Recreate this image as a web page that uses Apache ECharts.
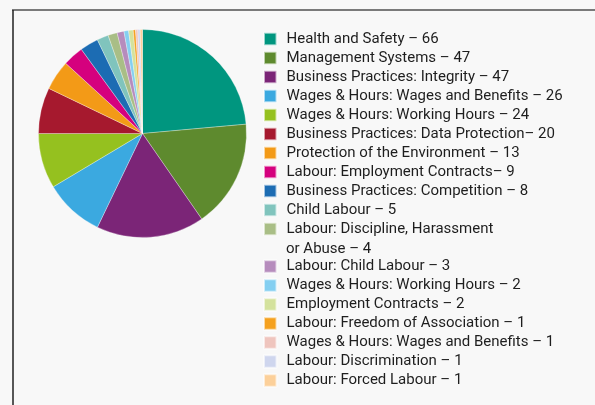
<!DOCTYPE html>
<html><head><meta charset="utf-8">
<script src="https://cdn.jsdelivr.net/npm/echarts@6/dist/echarts.min.js"></script>
<style>html,body{margin:0;padding:0;background:#f8f8f8}#c{width:595px;height:405px}</style>
</head><body><div id="c"></div>
<script>
const categories = [
  'Health and Safety',
  'Management Systems',
  'Business Practices: Integrity',
  'Wages & Hours: Wages and Benefits',
  'Wages & Hours: Working Hours',
  'Business Practices: Data Protection',
  'Protection of the Environment',
  'Labour: Employment Contracts',
  'Business Practices: Competition',
  'Child Labour',
  'Labour: Discipline, Harassment or Abuse',
  'Labour: Child Labour',
  'Wages & Hours: Working Hours',
  'Employment Contracts',
  'Labour: Freedom of Association',
  'Wages & Hours: Wages and Benefits',
  'Labour: Discrimination',
  'Labour: Forced Labour'
];
const values = [66, 47, 47, 26, 24, 20, 13, 9, 8, 5, 4, 3, 2, 2, 1, 1, 1, 1];
const colors = ['#00967f','#5e8a2e','#7b2577','#3ba9e0','#95c11f','#a6192e','#f39a17','#d5017e','#1c6cb3',
  '#80c4bd','#a9be86','#b68cbd','#84cff1','#d4e29d','#f5a11e','#efc5be','#cfd6ee','#fcd09a'];
const tightDash = [5, 7]; // legend entries printed without a space before the dash
const wrapIndex = 10;      // legend entry that wraps onto a second line

const ids = categories.map((c, i) => 'k' + i);
function labelOf(i) {
  return categories[i] + (tightDash.includes(i) ? '– ' : ' – ') + values[i];
}
const font = 'Roboto';
const fs = 15;
const textColor = '#1e1e1e';

const wrapFirst = 'Labour: Discipline, Harassment';
const wrapSecond = 'or Abuse – ' + values[wrapIndex];

function legendFmt(name) {
  const i = ids.indexOf(name);
  if (i === wrapIndex) return wrapFirst;
  return labelOf(i);
}
const legendBase = {
  orient: 'vertical', left: 263, padding: 0, itemGap: 0,
  itemWidth: 12.5, itemHeight: 12.5, icon: 'rect', selectedMode: false,
  formatter: legendFmt,
  textStyle: { fontFamily: font, fontSize: fs, color: textColor, lineHeight: 17, padding: [2, 0, 0, 5] }
};

const chart = echarts.init(document.getElementById('c'), null, { renderer: 'canvas' });
chart.setOption({
  backgroundColor: '#f8f8f8',
  animation: false,
  color: colors,
  legend: [
    Object.assign({}, legendBase, { top: 29.5, data: ids.slice(0, wrapIndex + 1) }),
    Object.assign({}, legendBase, { top: 257, data: ids.slice(wrapIndex + 1) })
  ],
  graphic: [
    { type: 'line', shape: { x1: 12, y1: 10, x2: 595, y2: 10 }, style: { stroke: '#7a7a7a', lineWidth: 2 } },
    { type: 'line', shape: { x1: 13, y1: 10, x2: 13, y2: 405 }, style: { stroke: '#222', lineWidth: 1.5 } },
    { type: 'text', left: 286, top: 241.5, style: { text: wrapSecond, font: fs + 'px ' + font, fill: textColor } }
  ],
  series: [{
    type: 'pie',
    center: [142.5, 133.5],
    radius: 104,
    startAngle: 90,
    clockwise: true,
    label: { show: false },
    labelLine: { show: false },
    emphasis: { disabled: true },
    itemStyle: { borderColor: 'rgba(255,255,255,0.6)', borderWidth: 0.5 },
    data: ids.map((id, i) => ({ name: id, value: values[i] }))
  }]
});
</script></body></html>
